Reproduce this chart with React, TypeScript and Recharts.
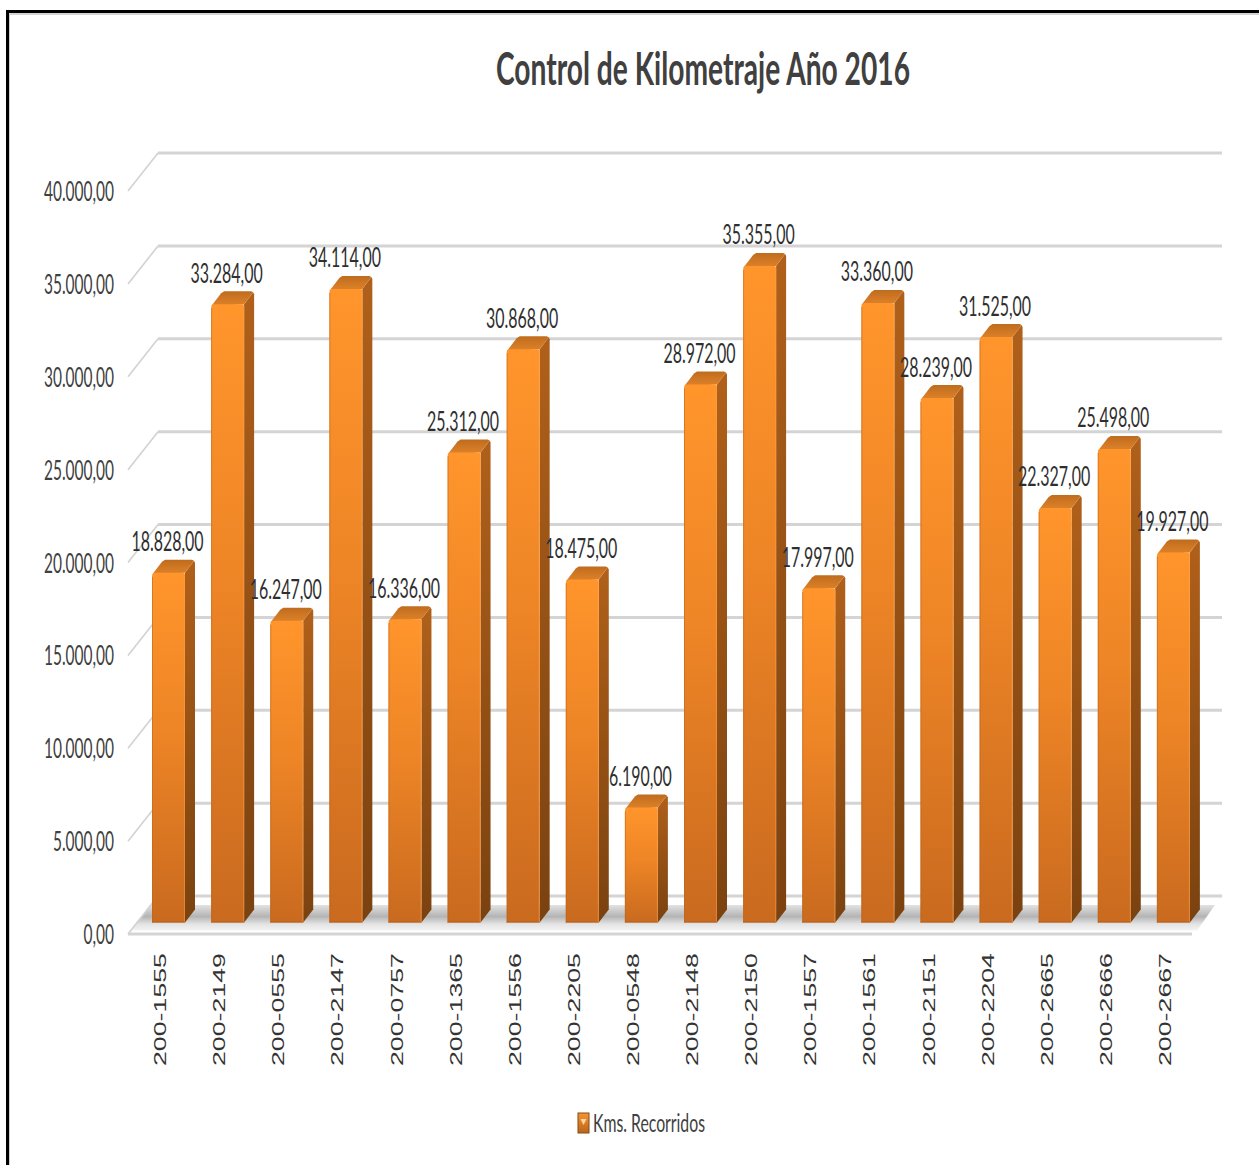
import { Bar, BarChart, CartesianGrid, LabelList, Legend, XAxis, YAxis } from "recharts";

const units = [
  "200-1555", "200-2149", "200-0555", "200-2147", "200-0757", "200-1365",
  "200-1556", "200-2205", "200-0548", "200-2148", "200-2150", "200-1557",
  "200-1561", "200-2151", "200-2204", "200-2665", "200-2666", "200-2667",
];
const kilometers = [
  18828, 33284, 16247, 34114, 16336, 25312, 30868, 18475, 6190, 28972, 35355,
  17997, 33360, 28239, 31525, 22327, 25498, 19927,
];
const yTicks = [0, 5000, 10000, 15000, 20000, 25000, 30000, 35000, 40000];
const seriesName = "Kms. Recorridos";
const chartTitle = "Control de Kilometraje Año 2016";

const rows = units.map((unit, i) => ({ unit, kms: kilometers[i] }));

const WIDTH = 1259;
const HEIGHT = 1165;
const FONT = "Lato, sans-serif";
const PLOT_BOTTOM = 922.6;

// 3D box depth of the bars and the floor/wall offsets of the grid
const DEPTH_X = 10;
const DEPTH_Y = 13;
const FRONT = { x: -11, y: 11.5 };
const BACK = { x: 19, y: -26.5 };

const money = (v: number) => {
  const [whole, dec] = v.toFixed(2).split(".");
  return whole.replace(/\B(?=(\d{3})+$)/g, ".") + "," + dec;
};

// Calibri-like squeezed numerals: width is set per character
const squeezedWidth = (s: string, digit: number) => {
  let w = 0;
  for (const c of s) w += /\d/.test(c) ? digit : 3.5;
  return w;
};

function GridLine(props: any) {
  const { x1, x2, y1 } = props;
  const isFloor = Math.abs(y1 - PLOT_BOTTOM) < 1;
  return (
    <g key={props.key ?? y1}>
      {isFloor && (
        <polygon
          points={`${x1 - 8},${y1 + 8} ${x1 + 11},${y1 - 17.5} ${x2 + 12},${y1 - 17.5} ${x2 - 6},${y1 + 8}`}
          fill="url(#floorFill)"
        />
      )}
      <line
        x1={x1 + FRONT.x}
        y1={y1 + FRONT.y}
        x2={x1 + BACK.x}
        y2={y1 + BACK.y}
        stroke="#d2d2d2"
        strokeWidth={1.6}
      />
      <line
        x1={x1 + BACK.x}
        y1={y1 + BACK.y}
        x2={x2 + BACK.x}
        y2={y1 + BACK.y}
        stroke="#d4d4d4"
        strokeWidth={3}
      />
      {isFloor && (
        <line
          x1={x1 + FRONT.x}
          y1={y1 + FRONT.y}
          x2={x2 + FRONT.x}
          y2={y1 + FRONT.y}
          stroke="#d4d4d4"
          strokeWidth={3}
        />
      )}
    </g>
  );
}

function Box3D(props: any) {
  const { x, y, width, height } = props;
  const r = x + width;
  const b = y + height;
  const dx = DEPTH_X;
  const dy = DEPTH_Y;
  return (
    <g>
      <polygon
        points={`${r},${y} ${r + dx - 1},${y - dy + 1} ${r + dx},${y - dy + 3} ${r + dx},${b - dy} ${r},${b}`}
        fill="url(#sideFill)"
      />
      <polygon
        points={`${x},${y + 2} ${x + dx},${y - dy + 2} ${x + dx + 3},${y - dy} ${r + dx - 3},${y - dy} ${r + dx - 1},${y - dy + 1} ${r},${y}`}
        fill="url(#topFill)"
      />
      <path
        d={`M${x},${b} V${y + 4} Q${x},${y} ${x + 4},${y} H${r - 2} Q${r},${y} ${r},${y + 2} V${b} Z`}
        fill="url(#frontFill)"
      />
      <line x1={x + 0.5} y1={y + 4} x2={x + 0.5} y2={b} stroke="#b9651c" strokeOpacity={0.55} />
      <line x1={r - 0.5} y1={y + 3} x2={r - 0.5} y2={b} stroke="#ffa347" strokeOpacity={0.45} />
      <line x1={x} y1={b - 0.5} x2={r} y2={b - 0.5} stroke="#a9591a" strokeOpacity={0.6} />
    </g>
  );
}

function ValueLabel(props: any) {
  const { x, y, width, value } = props;
  const text = money(Number(value));
  return (
    <text
      x={x + width / 2 - 1}
      y={y - 21.5}
      textAnchor="middle"
      fontFamily={FONT}
      fontSize={27}
      fill="#2f2f2f"
      textLength={squeezedWidth(text, 9.3)}
      lengthAdjust="spacingAndGlyphs"
    >
      {text}
    </text>
  );
}

function ValueTick(props: any) {
  const { y, payload } = props;
  const text = money(payload.value);
  return (
    <g>
      <text
        x={114}
        y={y + FRONT.y + 10}
        textAnchor="end"
        fontFamily={FONT}
        fontSize={27}
        fill="#404040"
        textLength={squeezedWidth(text, 9)}
        lengthAdjust="spacingAndGlyphs"
      >
        {text}
      </text>
    </g>
  );
}

function UnitTick(props: any) {
  const { x, payload } = props;
  return (
    <text
      transform={`translate(${x - 2.5},1066) rotate(-90)`}
      fontFamily="'Liberation Sans', Arial, sans-serif"
      fontSize={16.5}
      fill="#333333"
      textLength={113}
      lengthAdjust="spacingAndGlyphs"
    >
      {payload.value}
    </text>
  );
}

function LegendBox(props: any) {
  const name = props.payload?.[0]?.value ?? seriesName;
  return (
    <svg width={150} height={40} style={{ display: "block", overflow: "visible" }}>
      <defs>
        <linearGradient id="legendFill" x1="0" y1="0" x2="0" y2="1">
          <stop offset="0" stopColor="#f79433" />
          <stop offset="1" stopColor="#b9651c" />
        </linearGradient>
      </defs>
      <rect x={8} y={8} width={11} height={20} fill="url(#legendFill)" stroke="#8a4a12" strokeWidth={1} />
      <polygon points="10.5,14 16.5,14 13.5,20" fill="#ffd79a" />
      <text
        x={23}
        y={27}
        fontFamily={FONT}
        fontSize={25}
        fill="#404040"
        textLength={112}
        lengthAdjust="spacingAndGlyphs"
      >
        {name}
      </text>
    </svg>
  );
}

export default function App() {
  return (
    <div style={{ position: "absolute", left: 0, top: 0, width: WIDTH, height: HEIGHT, overflow: "hidden", background: "#fff" }}>
      {/* pasted-in frame: black rule on the top and left with a grey inner edge */}
      <div style={{ position: "absolute", left: 6, top: 10, width: WIDTH, height: HEIGHT, borderTop: "3px solid #000", borderLeft: "3px solid #000", boxSizing: "border-box" }} />
      <div style={{ position: "absolute", left: 9, top: 13, width: WIDTH, height: HEIGHT, borderTop: "2px solid #d4d4d4", borderLeft: "1px solid #cfcfcf", boxSizing: "border-box" }} />
      <div style={{ position: "absolute", left: 0, top: 0 }}>
        <BarChart
          width={WIDTH}
          height={HEIGHT}
          data={rows}
          margin={{ top: 179.6, right: 56, bottom: 72.4, left: 138 }}
          barCategoryGap={0}
        >
          <defs>
            <linearGradient id="frontFill" x1="0" y1="0" x2="0" y2="1">
              <stop offset="0" stopColor="#ff952b" />
              <stop offset="0.45" stopColor="#ee8526" />
              <stop offset="1" stopColor="#c96a1f" />
            </linearGradient>
            <linearGradient id="sideFill" x1="0" y1="0" x2="0" y2="1">
              <stop offset="0" stopColor="#b0601a" />
              <stop offset="1" stopColor="#7a4210" />
            </linearGradient>
            <linearGradient id="topFill" x1="0" y1="0" x2="0" y2="1">
              <stop offset="0" stopColor="#bf6c1e" />
              <stop offset="1" stopColor="#e0832a" />
            </linearGradient>
            <linearGradient id="floorFill" x1="0" y1="0" x2="0" y2="1">
              <stop offset="0" stopColor="#e2e2e2" />
              <stop offset="0.45" stopColor="#b4b4b4" />
              <stop offset="0.75" stopColor="#e4e4e4" />
              <stop offset="1" stopColor="#f4f4f4" />
            </linearGradient>
          </defs>
          <text
            x={703}
            y={85}
            textAnchor="middle"
            fontFamily={FONT}
            fontWeight={700}
            fontSize={46}
            fill="#404040"
            textLength={414}
            lengthAdjust="spacingAndGlyphs"
          >
            {chartTitle}
          </text>
          <CartesianGrid vertical={false} horizontal={(p: any) => <GridLine {...p} />} />
          <XAxis
            dataKey="unit"
            interval={0}
            height={130}
            axisLine={false}
            tickLine={false}
            tick={<UnitTick />}
          />
          <YAxis
            width={1}
            domain={[0, 40000]}
            ticks={yTicks}
            axisLine={false}
            tickLine={false}
            tick={<ValueTick />}
          />
          <Legend
            height={40}
            content={<LegendBox />}
            wrapperStyle={{ position: "absolute", left: 570, top: 1105, width: 150, height: 40, bottom: "auto" }}
          />
          <Bar dataKey="kms" name={seriesName} barSize={33} shape={<Box3D />} isAnimationActive={false}>
            <LabelList dataKey="kms" content={<ValueLabel />} />
          </Bar>
        </BarChart>
      </div>
    </div>
  );
}
